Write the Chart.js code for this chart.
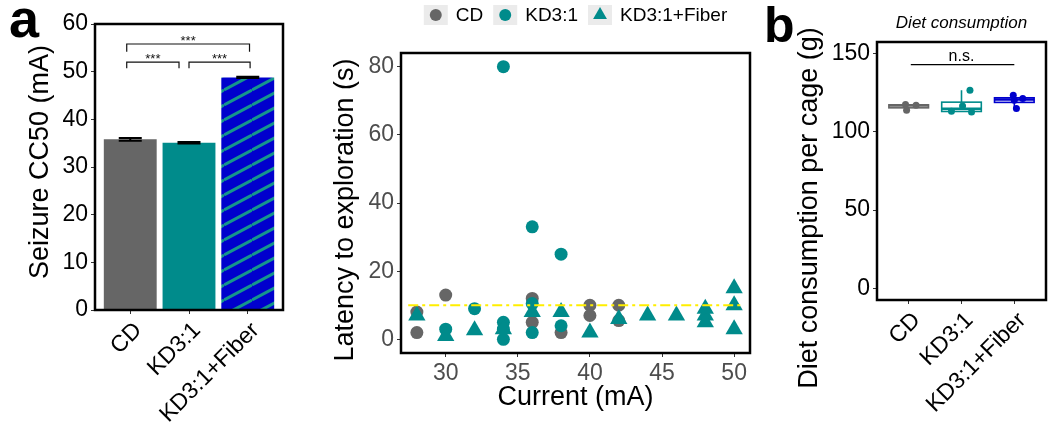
<!DOCTYPE html>
<html>
<head>
<meta charset="utf-8">
<script src="https://cdn.jsdelivr.net/npm/chart.js@4.4.0/dist/chart.umd.min.js"></script>
<style>
  body { margin: 0; background: #fff; width: 1050px; height: 433px; overflow: hidden; position: relative; }
  canvas { position: absolute; top: 0; }
</style>
</head>
<body>
<canvas id="cc50" width="300" height="433" style="left:0"></canvas>
<canvas id="latency" width="460" height="433" style="left:300px"></canvas>
<canvas id="diet" width="290" height="433" style="left:760px"></canvas>
<script>
const FONT = '"Liberation Sans", Arial, Helvetica, sans-serif';
const GREY = '#666666', TEAL = '#008B8B', BLUE = '#0000CD';

// panel a - seizure threshold bars
const groups = ['CD', 'KD3:1', 'KD3:1+Fiber'];
const cc50Mean = [35.8, 35.1, 48.8];
const cc50Err = [0.3, 0.15, 0.15];
const cc50Ticks = [0, 10, 20, 30, 40, 50, 60];
const sigBrackets = [
  { from: 0.94, to: 3.03, y: 55.8, drop: 1.6, label: '***' },
  { from: 0.94, to: 1.83, y: 52.0, drop: 1.3, label: '***' },
  { from: 2.0, to: 3.04, y: 52.0, drop: 1.3, label: '***' }
];

// middle panel - latency vs current
const cdLatency = [[28, 8], [28, 2], [30, 13], [36, 12], [36, 5], [38, 2], [40, 10], [40, 7], [42, 10], [42, 5.5]];
const kdLatency = [[30, 3], [32, 9], [34, 80], [34, 5], [34, 3], [34, 0], [36, 33], [36, 10.5], [36, 2], [38, 25], [38, 4]];
const fiberLatency = [[28, 7], [30, 1], [32, 2.7], [34, 3], [36, 8], [38, 8], [40, 2], [42, 6], [44, 7], [46, 7],
  [48, 9], [48, 7], [48, 5], [50, 15], [50, 10], [50, 3]];
const currentTicks = [30, 35, 40, 45, 50];
const latencyTicks = [0, 20, 40, 60, 80];
const thresholdLatency = 10;
const thresholdSpan = [27.4, 50.6];

// panel b - diet consumption (x is group position with jitter)
const dietCD = [[0.94, 117.6], [0.96, 113.8], [1.14, 117.0]];
const dietKD = [[2.16, 126.6], [2.02, 116.5], [1.81, 113.2], [2.19, 112.7]];
const dietFiber = [[2.98, 123.4], [3.04, 114.9], [3.16, 121.3], [3.0, 120.2]];
const dietTicks = [0, 50, 100, 150];

const toXY = arr => arr.map(p => ({ x: p[0], y: p[1] }));

function fixAxis(size) {
  return function(s) {
    if (s.isHorizontal()) s.height = size; else s.width = size;
    s.paddingLeft = s.paddingRight = s.paddingTop = s.paddingBottom = 0;
  };
}

function valueAxis(min, max, ticks, width, color) {
  return {
    type: 'linear', min: min, max: max,
    afterBuildTicks: s => { s.ticks = ticks.map(v => ({ value: v })); },
    afterFit: fixAxis(width),
    grid: { drawOnChartArea: false, drawTicks: true, tickLength: 4, tickColor: '#333', tickWidth: 1 },
    border: { display: false },
    ticks: { color: color, font: { family: FONT, size: 23 }, padding: 3 }
  };
}

function groupAxis(height) {
  return {
    type: 'linear', min: 0.4, max: 3.6, offset: false,
    afterBuildTicks: s => { s.ticks = groups.map((g, i) => ({ value: i + 1 })); },
    afterFit: fixAxis(height),
    grid: { offset: false, drawOnChartArea: false, drawTicks: true, tickLength: 4, tickColor: '#333', tickWidth: 1 },
    border: { display: false },
    ticks: { color: '#000', font: { family: FONT, size: 23 }, padding: 3, autoSkip: false, labelOffset: 8,
      minRotation: 45, maxRotation: 45, callback: v => groups[v - 1] }
  };
}

// black box round the plot area
const frame = {
  id: 'frame',
  afterDraw(chart) {
    const { ctx, chartArea: a } = chart;
    ctx.save();
    ctx.strokeStyle = '#000';
    ctx.lineWidth = 2.5;
    ctx.strokeRect(a.left, a.top, a.right - a.left, a.bottom - a.top);
    ctx.restore();
  }
};

function panelLetter(text, size, x, y) {
  return {
    id: 'letter' + text,
    afterDraw(chart) {
      const ctx = chart.ctx;
      ctx.save();
      ctx.font = 'bold ' + size + 'px ' + FONT;
      ctx.fillStyle = '#000';
      ctx.textBaseline = 'alphabetic';
      ctx.fillText(text, x, y);
      ctx.restore();
    }
  };
}

// rotated y title, placed where ggplot put it
function yTitle(text, cx, cy) {
  return {
    id: 'yTitle',
    afterDraw(chart) {
      const ctx = chart.ctx;
      ctx.save();
      ctx.translate(cx, cy);
      ctx.rotate(-Math.PI / 2);
      ctx.font = '27px ' + FONT;
      ctx.fillStyle = '#000';
      ctx.textAlign = 'center';
      ctx.textBaseline = 'middle';
      ctx.fillText(text, 0, 0);
      ctx.restore();
    }
  };
}

function stripes() {
  const w = 28, h = 15;
  const c = document.createElement('canvas');
  c.width = w; c.height = h;
  const g = c.getContext('2d');
  g.fillStyle = BLUE;
  g.fillRect(0, 0, w, h);
  g.strokeStyle = '#15968C';
  g.lineWidth = 3;
  for (const k of [-1, 0, 1]) {
    g.beginPath();
    g.moveTo(0, h + k * h);
    g.lineTo(w, k * h);
    g.stroke();
  }
  return g.createPattern(c, 'repeat');
}

const errorBars = {
  id: 'errorBars',
  afterDatasetsDraw(chart) {
    const { ctx, scales: { y } } = chart;
    const meta = chart.getDatasetMeta(0);
    ctx.save();
    ctx.strokeStyle = '#000';
    ctx.lineWidth = 2;
    meta.data.forEach((bar, i) => {
      const lo = y.getPixelForValue(cc50Mean[i] - cc50Err[i]);
      const hi = y.getPixelForValue(cc50Mean[i] + cc50Err[i]);
      const hw = 11.5;
      ctx.beginPath();
      ctx.moveTo(bar.x - hw, lo); ctx.lineTo(bar.x + hw, lo);
      ctx.moveTo(bar.x - hw, hi); ctx.lineTo(bar.x + hw, hi);
      ctx.moveTo(bar.x, lo); ctx.lineTo(bar.x, hi);
      ctx.stroke();
    });
    ctx.restore();
  }
};

const sigMarks = {
  id: 'sigMarks',
  afterDatasetsDraw(chart) {
    const { ctx, scales: { x, y } } = chart;
    ctx.save();
    ctx.strokeStyle = '#111';
    ctx.lineWidth = 1.2;
    ctx.fillStyle = '#111';
    ctx.font = '13px ' + FONT;
    ctx.textAlign = 'center';
    ctx.textBaseline = 'alphabetic';
    sigBrackets.forEach(b => {
      const x1 = x.getPixelForValue(b.from), x2 = x.getPixelForValue(b.to);
      const yl = y.getPixelForValue(b.y), yd = y.getPixelForValue(b.y - b.drop);
      ctx.beginPath();
      ctx.moveTo(x1, yd); ctx.lineTo(x1, yl); ctx.lineTo(x2, yl); ctx.lineTo(x2, yd);
      ctx.stroke();
      ctx.fillText(b.label, (x1 + x2) / 2, yl + 1);
    });
    ctx.restore();
  }
};

new Chart(document.getElementById('cc50'), {
  type: 'bar',
  data: {
    datasets: [{
      data: cc50Mean.map((m, i) => ({ x: i + 1, y: m })),
      backgroundColor: [GREY, TEAL, stripes()],
      borderWidth: 0,
      barPercentage: 0.9,
      categoryPercentage: 1
    }]
  },
  options: {
    responsive: false, animation: false, devicePixelRatio: 1,
    layout: { padding: { left: 0, top: 24, right: 17, bottom: 0 } },
    plugins: { legend: { display: false }, tooltip: { enabled: false } },
    scales: {
      x: groupAxis(123),
      y: valueAxis(0, 60, cc50Ticks, 95, '#000')
    }
  },
  plugins: [errorBars, sigMarks, frame, panelLetter('a', 54, 9, 37), yTitle('Seizure CC50 (mA)', 41, 162)]
});

// legend drawn ggplot style, centred on the panel
const ggLegend = {
  id: 'ggLegend',
  afterDraw(chart) {
    const { ctx, chartArea: a } = chart;
    const items = chart.data.datasets.filter(d => d.legendOrder !== undefined)
      .sort((p, q) => p.legendOrder - q.legendOrder);
    ctx.save();
    ctx.font = '19px ' + FONT;
    const keyW = 24, keyH = 20, gap = 8, itemGap = 10, top = 5;
    const widths = items.map(d => keyW + gap + ctx.measureText(d.label).width);
    const total = widths.reduce((s, w) => s + w, 0) + itemGap * (items.length - 1);
    let x = (a.left + a.right) / 2 - total / 2;
    items.forEach((d, i) => {
      ctx.fillStyle = '#EBEBEB';
      ctx.fillRect(x, top, keyW, keyH);
      const cx = x + keyW / 2, cy = top + keyH / 2;
      ctx.fillStyle = d.pointBackgroundColor;
      ctx.beginPath();
      if (d.pointStyle === 'triangle') {
        const r = 8;
        ctx.moveTo(cx, cy - r);
        ctx.lineTo(cx + r * Math.sin(2 * Math.PI / 3), cy + r / 2);
        ctx.lineTo(cx - r * Math.sin(2 * Math.PI / 3), cy + r / 2);
        ctx.closePath();
      } else {
        ctx.arc(cx, cy, 6, 0, Math.PI * 2);
      }
      ctx.fill();
      ctx.fillStyle = '#000';
      ctx.textBaseline = 'middle';
      ctx.fillText(d.label, x + keyW + gap, cy + 1);
      x += widths[i] + itemGap;
    });
    ctx.restore();
  }
};

const latencyX = valueAxis(26.9, 51.1, currentTicks, 80, '#4D4D4D');
latencyX.title = { display: true, text: 'Current (mA)', color: '#000',
  font: { family: FONT, size: 27, lineHeight: 1 }, padding: { top: 0, bottom: 22 } };

new Chart(document.getElementById('latency'), {
  type: 'scatter',
  data: {
    datasets: [
      { label: 'threshold', data: thresholdSpan.map(v => ({ x: v, y: thresholdLatency })), showLine: true,
        borderColor: '#FFEE00', borderWidth: 2, borderDash: [10, 4, 3, 4], pointRadius: 0, order: 0 },
      { label: 'KD3:1+Fiber', data: toXY(fiberLatency), pointStyle: 'triangle', pointRadius: 10,
        pointBackgroundColor: TEAL, pointBorderWidth: 0, order: 1, legendOrder: 3 },
      { label: 'KD3:1', data: toXY(kdLatency), pointStyle: 'circle', pointRadius: 6.5,
        pointBackgroundColor: TEAL, pointBorderWidth: 0, order: 2, legendOrder: 2 },
      { label: 'CD', data: toXY(cdLatency), pointStyle: 'circle', pointRadius: 6.5,
        pointBackgroundColor: GREY, pointBorderWidth: 0, order: 3, legendOrder: 1 }
    ]
  },
  options: {
    responsive: false, animation: false, devicePixelRatio: 1,
    layout: { padding: { left: 0, top: 53, right: 7, bottom: 0 } },
    plugins: { legend: { display: false }, tooltip: { enabled: false } },
    scales: {
      x: latencyX,
      y: valueAxis(-4, 84, latencyTicks, 101, '#4D4D4D')
    }
  },
  plugins: [frame, ggLegend, yTitle('Latency to exploration (s)', 46, 210)]
});

// box plots drawn from the raw values (quantile type 7, like R)
function quantile(sorted, p) {
  const h = (sorted.length - 1) * p, lo = Math.floor(h);
  const hi = Math.min(lo + 1, sorted.length - 1);
  return sorted[lo] + (h - lo) * (sorted[hi] - sorted[lo]);
}

const boxes = {
  id: 'boxes',
  beforeDatasetsDraw(chart) {
    const { ctx, scales: { x, y } } = chart;
    const sets = [[dietCD, GREY], [dietKD, TEAL], [dietFiber, BLUE]];
    ctx.save();
    sets.forEach(([pts, col], i) => {
      const v = pts.map(p => p[1]).sort((a, b) => a - b);
      const q1 = quantile(v, 0.25), q2 = quantile(v, 0.5), q3 = quantile(v, 0.75);
      const iqr = q3 - q1;
      const lo = Math.min(...v.filter(t => t >= q1 - 1.5 * iqr));
      const hi = Math.max(...v.filter(t => t <= q3 + 1.5 * iqr));
      const cx = x.getPixelForValue(i + 1);
      const l = x.getPixelForValue(i + 1 - 0.375), r = x.getPixelForValue(i + 1 + 0.375);
      ctx.strokeStyle = col;
      ctx.lineWidth = 1.6;
      ctx.beginPath();
      ctx.moveTo(cx, y.getPixelForValue(q3)); ctx.lineTo(cx, y.getPixelForValue(hi));
      ctx.moveTo(cx, y.getPixelForValue(q1)); ctx.lineTo(cx, y.getPixelForValue(lo));
      ctx.stroke();
      const top = y.getPixelForValue(q3), bot = y.getPixelForValue(q1);
      ctx.fillStyle = '#fff';
      ctx.fillRect(l, top, r - l, bot - top);
      ctx.strokeRect(l, top, r - l, bot - top);
      ctx.lineWidth = 2.6;
      ctx.beginPath();
      ctx.moveTo(l, y.getPixelForValue(q2)); ctx.lineTo(r, y.getPixelForValue(q2));
      ctx.stroke();
    });
    ctx.restore();
  },
  afterDraw(chart) {
    const { ctx, chartArea: a, scales: { x, y } } = chart;
    ctx.save();
    ctx.fillStyle = '#000';
    ctx.font = 'italic 17px ' + FONT;
    ctx.textAlign = 'center';
    ctx.fillText('Diet consumption', (a.left + a.right) / 2, 28);
    // n.s. bar across the three groups
    const yl = y.getPixelForValue(143);
    ctx.strokeStyle = '#000';
    ctx.lineWidth = 1.2;
    ctx.beginPath();
    ctx.moveTo(x.getPixelForValue(1.04), yl); ctx.lineTo(x.getPixelForValue(3.0), yl);
    ctx.stroke();
    ctx.font = '16px ' + FONT;
    ctx.fillText('n.s.', x.getPixelForValue(2), yl - 4);
    ctx.restore();
  }
};

new Chart(document.getElementById('diet'), {
  type: 'scatter',
  data: {
    datasets: [
      { label: 'CD', data: toXY(dietCD), pointRadius: 3.5, pointBackgroundColor: GREY, pointBorderWidth: 0 },
      { label: 'KD3:1', data: toXY(dietKD), pointRadius: 3.5, pointBackgroundColor: TEAL, pointBorderWidth: 0 },
      { label: 'KD3:1+Fiber', data: toXY(dietFiber), pointRadius: 3.5, pointBackgroundColor: BLUE, pointBorderWidth: 0 }
    ]
  },
  options: {
    responsive: false, animation: false, devicePixelRatio: 1,
    layout: { padding: { left: 0, top: 42, right: 1, bottom: 0 } },
    plugins: { legend: { display: false }, tooltip: { enabled: false } },
    scales: {
      x: groupAxis(133),
      y: valueAxis(-7.5, 157.5, dietTicks, 117, '#000')
    }
  },
  plugins: [boxes, frame, panelLetter('b', 50, 4, 42), yTitle('Diet consumption per cage (g)', 50, 208)]
});
</script>
</body>
</html>
